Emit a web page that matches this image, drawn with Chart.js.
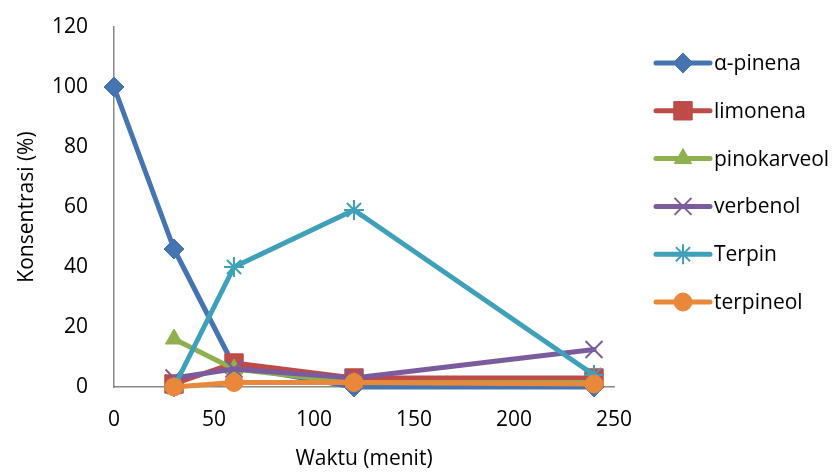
<!DOCTYPE html>
<html>
<head>
<meta charset="utf-8">
<script src="https://cdn.jsdelivr.net/npm/chart.js@4.4.1/dist/chart.umd.min.js"></script>
<style>
  html, body { margin: 0; padding: 0; background: #fff; }
  #wrap { width: 840px; height: 472px; position: relative; }
</style>
</head>
<body>
<div id="wrap"><canvas id="chart"></canvas></div>
<script>
// time points (menit)
const waktu = [0, 30, 60, 120, 240];

const seriesNames = ['α-pinena', 'limonena', 'pinokarveol', 'verbenol', 'Terpin', 'terpineol'];

// values per time point, null where there's no point
const alphaPinena = [100, 46, 7, 0, 0];
const limonena = [null, 1, 8, 3, 3];
const pinokarveol = [null, 16, 6, 1.5, 1.5];
const verbenol = [null, 3, 6, 3, 12.5];
const terpin = [null, 0, 40, 59, 4];
const terpineol = [null, 0, 1.5, 1.5, 1];

const yTicks = [0, 20, 40, 60, 80, 100, 120];
const xTicks = [0, 50, 100, 150, 200, 250];

const colors = ['#4674b1', '#be4b48', '#8fb04f', '#7a5c9c', '#3fa0ba', '#e9883a'];
const markers = ['rectRot', 'rect', 'triangle', 'crossRot', 'star', 'circle'];
const radii = [10, 13, 10, 12, 10, 9];

const allValues = [alphaPinena, limonena, pinokarveol, verbenol, terpin, terpineol];

function toPoints(vals) {
  const pts = [];
  vals.forEach((v, i) => {
    if (v !== null) pts.push({ x: waktu[i], y: v });
  });
  return pts;
}

// later series sit on top, like the original
const datasets = seriesNames.map((name, i) => ({
  label: name,
  data: toPoints(allValues[i]),
  order: seriesNames.length - i,
  borderColor: colors[i],
  backgroundColor: colors[i],
  borderWidth: 5,
  borderJoinStyle: 'round',
  borderCapStyle: 'round',
  pointStyle: markers[i],
  pointRadius: radii[i],
  pointBorderWidth: (markers[i] === 'crossRot' || markers[i] === 'star') ? 2 : 1,
  pointBorderColor: colors[i],
  tension: 0,
  clip: false
}));

const FONT = "'Open Sans', 'Liberation Sans', sans-serif";
const FS = 21;

// legend with line + marker, drawn on the right side
const sideLegend = {
  id: 'sideLegend',
  afterDraw(chart) {
    const ctx = chart.ctx;
    const x0 = 656, x1 = 710, startY = 63, step = 47.8;
    ctx.save();
    datasets.forEach((ds, i) => {
      const y = startY + i * step;
      ctx.strokeStyle = ds.borderColor;
      ctx.lineWidth = 5;
      ctx.lineCap = 'round';
      ctx.beginPath();
      ctx.moveTo(x0, y);
      ctx.lineTo(x1, y);
      ctx.stroke();
      ctx.fillStyle = ds.backgroundColor;
      ctx.lineWidth = ds.pointBorderWidth;
      ctx.lineCap = 'butt';
      Chart.helpers.drawPoint(ctx, {
        pointStyle: ds.pointStyle,
        radius: ds.pointRadius,
        rotation: 0,
        borderWidth: ds.pointBorderWidth
      }, (x0 + x1) / 2, y);
      ctx.fillStyle = '#000';
      ctx.font = FS + 'px ' + FONT;
      ctx.textBaseline = 'middle';
      ctx.textAlign = 'left';
      ctx.fillText(ds.label, x1 + 4, y + 1);
    });
    ctx.restore();
  }
};

new Chart(document.getElementById('chart'), {
  type: 'line',
  data: { datasets: datasets },
  options: {
    responsive: true,
    maintainAspectRatio: false,
    animation: false,
    layout: { padding: { left: 0, top: 27, right: 226, bottom: 0 } },
    plugins: {
      legend: { display: false },
      tooltip: { enabled: false }
    },
    scales: {
      x: {
        type: 'linear',
        min: 0,
        max: 250,
        afterFit: (s) => { s.height = 85; s.paddingLeft = 0; s.paddingRight = 0; },
        afterBuildTicks: (s) => { s.ticks = xTicks.map(v => ({ value: v })); },
        grid: { display: false, drawTicks: false },
        border: { display: true, color: '#888', width: 1.5 },
        ticks: { color: '#000', padding: 20, font: { size: FS, family: FONT } },
        title: {
          display: true,
          text: 'Waktu (menit)',
          color: '#000',
          padding: { top: 14, bottom: 0 },
          font: { size: FS, family: FONT }
        }
      },
      y: {
        min: 0,
        max: 120,
        afterFit: (s) => { s.width = 114; s.paddingTop = 0; s.paddingBottom = 0; },
        afterBuildTicks: (s) => { s.ticks = yTicks.map(v => ({ value: v })); },
        grid: { display: false, drawTicks: false },
        border: { display: true, color: '#888', width: 1.5 },
        ticks: { color: '#000', padding: 26, font: { size: FS, family: FONT } },
        title: {
          display: true,
          text: 'Konsentrasi (%)',
          color: '#000',
          padding: { top: 14, bottom: 0 },
          font: { size: FS, family: FONT }
        }
      }
    }
  },
  plugins: [sideLegend]
});
</script>
</body>
</html>
